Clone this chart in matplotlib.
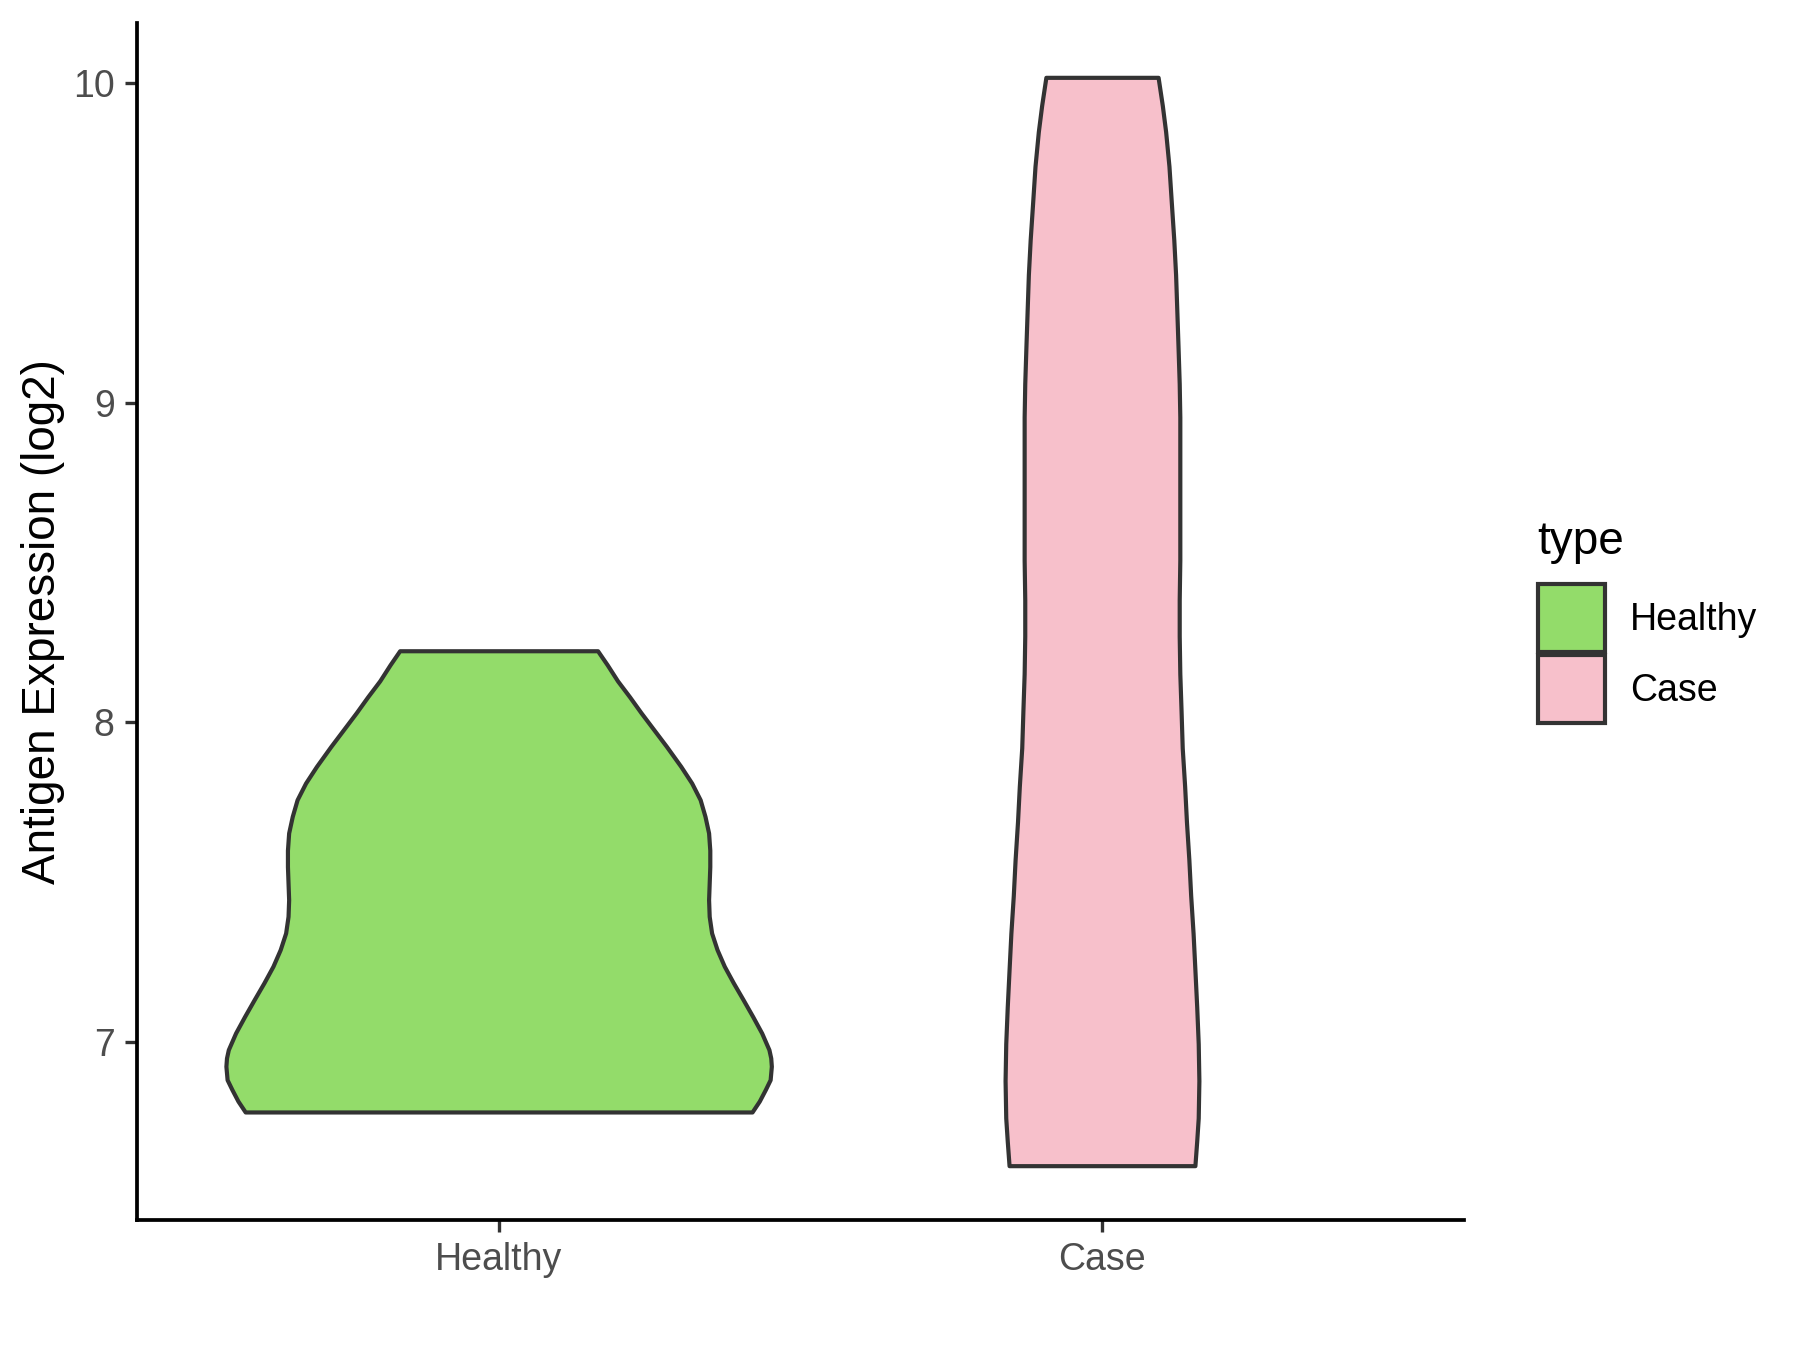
import matplotlib.pyplot as plt
from matplotlib.patches import Rectangle
import numpy as np

plt.rcParams['font.family'] = ['Liberation Sans', 'DejaVu Sans']

categories = ["Healthy", "Case"]
fill_colors = ["#93DC6A", "#F7C0CB"]
edge_color = "#333333"

# violin outline: expression value and half width (x units)
healthy_y = [8.224, 8.18, 8.13, 8.08, 8.03, 7.98, 7.925, 7.862, 7.81, 7.758, 7.706,
             7.654, 7.60, 7.549, 7.497, 7.445, 7.393, 7.341, 7.289, 7.237, 7.185,
             7.133, 7.08, 7.028, 6.976, 6.95, 6.924, 6.882, 6.851, 6.815, 6.781]
healthy_w = [0.164, 0.180, 0.197, 0.217, 0.236, 0.256, 0.278, 0.302, 0.320, 0.334, 0.342,
             0.348, 0.350, 0.350, 0.349, 0.348, 0.349, 0.353, 0.362, 0.374, 0.389,
             0.405, 0.421, 0.436, 0.448, 0.451, 0.452, 0.450, 0.442, 0.432, 0.420]

case_y = [10.018, 9.93, 9.848, 9.74, 9.624, 9.51, 9.401, 9.29, 9.178, 9.06, 8.955,
          8.84, 8.731, 8.62, 8.508, 8.383, 8.27, 8.152, 8.04, 7.92, 7.80, 7.689,
          7.57, 7.458, 7.34, 7.226, 7.11, 6.995, 6.879, 6.762, 6.69, 6.613]
case_w = [0.093, 0.100, 0.1055, 0.111, 0.115, 0.119, 0.122, 0.124, 0.126, 0.128, 0.129,
          0.129, 0.129, 0.129, 0.129, 0.128, 0.128, 0.129, 0.131, 0.133, 0.137, 0.140,
          0.144, 0.147, 0.151, 0.154, 0.157, 0.1595, 0.1606, 0.1595, 0.157, 0.154]

y_ticks = [7, 8, 9, 10]
y_label = "Antigen Expression (log2)"
legend_title = "type"

W, H = 1800, 1350
fig = plt.figure(figsize=(6, 4.5), dpi=300)
ax = fig.add_axes([136.6 / W, 1 - 1220 / H, (1464 - 136.6) / W, (1220 - 23) / H])

profiles = [(healthy_y, healthy_w), (case_y, case_w)]
for i, (ys, ws) in enumerate(profiles):
    pos = i + 1
    ys = np.array(ys)
    ws = np.array(ws)
    ax.fill_betweenx(ys, pos - ws, pos + ws, facecolor=fill_colors[i],
                     edgecolor=edge_color, linewidth=1.0, joinstyle="round")

ax.set_xlim(0.4, 2.6)
ax.set_ylim(6.443, 10.188)
ax.set_xticks([1, 2])
ax.set_xticklabels(categories)
ax.set_yticks(y_ticks)
ax.set_yticklabels([str(t) for t in y_ticks])
ax.tick_params(axis="both", length=2.8, width=0.8, color="#333333",
               labelsize=9, labelcolor="#4D4D4D", pad=2.5)
ax.set_ylabel(y_label, fontsize=11, color="black", labelpad=1.8)

for s in ["top", "right"]:
    ax.spines[s].set_visible(False)
for s in ["left", "bottom"]:
    ax.spines[s].set_linewidth(0.9)
    ax.spines[s].set_color("black")

# legend drawn in figure pixels
fig.text(1537 / W, 1 - 542 / H, legend_title, fontsize=11, va="center", ha="left")
key_tops = [584, 655]
for i, top in enumerate(key_tops):
    fig.patches.append(Rectangle((1538 / W, 1 - (top + 68) / H), 67 / W, 68 / H,
                                 transform=fig.transFigure, facecolor=fill_colors[i],
                                 edgecolor=edge_color, linewidth=1.0))
    fig.text(1630 / W, 1 - (top + 36) / H, categories[i], fontsize=9,
             va="center", ha="left")

fig.savefig("out.png", dpi=300)
